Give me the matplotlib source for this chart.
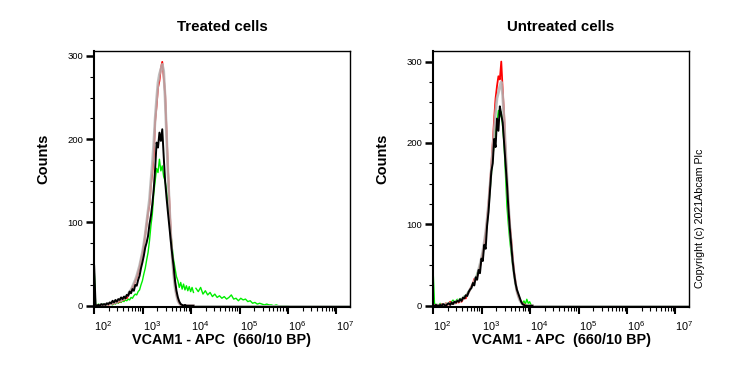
import numpy as np
import matplotlib
matplotlib.use("Agg")
import matplotlib.pyplot as plt
from matplotlib.ticker import FixedLocator, LogLocator, LogFormatterSciNotation, MultipleLocator, NullFormatter

plt.rcParams['font.family'] = ['Liberation Sans', 'DejaVu Sans']
plt.rcParams['mathtext.fontset'] = 'custom'
plt.rcParams['mathtext.rm'] = 'Liberation Sans'
plt.rcParams['mathtext.it'] = 'Liberation Sans:italic'
plt.rcParams['mathtext.bf'] = 'Liberation Sans:bold'

# channel positions (log10 of intensity)
log_main = np.linspace(2.0, 4.05, 71)
log_tail = np.linspace(4.1, 6.0, 40)
log_end = [4.1, 7.28]

# ---- Treated cells ----
treated_red = [0, 0, 0, 1, 0, 0, 1, 0, 1, 2, 1, 2, 3, 2, 4, 3, 5, 4, 6, 5,
               8, 7, 10, 9, 13, 15, 18, 22, 25, 30, 34, 40, 46, 55, 62, 72, 85, 98, 112, 122,
               145, 160, 182, 222, 240, 262, 270, 285, 293, 275, 255, 210, 165, 125, 88, 60, 40, 25, 14, 7,
               3, 1, 0, 0, 0, 0, 0, 0, 0, 0, 0]
treated_gray = [0, 1, 0, 0, 1, 0, 1, 1, 2, 1, 2, 3, 2, 4, 3, 5, 4, 6, 7, 6,
                9, 8, 11, 12, 14, 17, 19, 23, 27, 31, 36, 42, 48, 56, 64, 74, 86, 100, 114, 128,
                150, 170, 195, 225, 248, 268, 278, 284, 290, 282, 250, 205, 160, 120, 85, 58, 38, 22, 13, 6,
                3, 1, 0, 0, 0, 0, 0, 0, 0, 0, 0]
treated_black = [48, 1, 0, 1, 0, 2, 1, 2, 1, 3, 2, 4, 3, 6, 4, 7, 5, 8, 7, 10,
                 8, 11, 9, 13, 12, 17, 15, 20, 18, 25, 24, 31, 36, 45, 52, 60, 70, 76, 84, 98,
                 108, 122, 140, 165, 196, 190, 208, 198, 212, 180, 150, 130, 112, 95, 78, 62, 48, 30, 18, 10,
                 5, 2, 1, 0, 1, 0, 0, 0, 0, 0, 0]
treated_green = [45, 2, 0, 2, 1, 0, 2, 1, 0, 2, 1, 3, 2, 1, 3, 2, 4, 3, 5, 4,
                 6, 5, 7, 6, 8, 7, 10, 9, 12, 14, 13, 17, 19, 25, 30, 38, 45, 55, 64, 78,
                 96, 110, 135, 150, 165, 160, 176, 162, 168, 155, 150, 138, 122, 105, 88, 70, 55, 45, 35, 30,
                 22, 28, 20, 26, 19, 24, 18, 23, 17, 22, 16]
treated_green_tail = [21, 17, 22, 14, 18, 13, 16, 11, 14, 10, 12, 9, 11, 8, 10, 13, 8, 9, 6, 9,
                      7, 8, 5, 6, 3, 4, 2, 3, 2, 1, 2, 1, 1, 0, 1, 0, 0, 0, 0, 0]

# ---- Untreated cells ----
untreated_red = [0, 1, 0, 0, 1, 0, 2, 1, 0, 3, 1, 2, 5, 2, 3, 4, 3, 5, 4, 6,
                 5, 8, 10, 9, 14, 16, 20, 24, 27, 33, 32, 36, 41, 48, 56, 65, 76, 88, 105, 125,
                 148, 172, 200, 230, 255, 270, 282, 278, 300, 265, 235, 190, 155, 125, 100, 82, 60, 42, 30, 18,
                 12, 8, 5, 3, 2, 1, 0, 0, 0, 0, 0]
untreated_gray = [1, 0, 0, 1, 0, 1, 1, 0, 2, 1, 2, 3, 2, 3, 4, 3, 5, 5, 7, 6,
                  8, 9, 11, 12, 14, 17, 20, 23, 26, 30, 34, 38, 44, 51, 58, 67, 78, 90, 106, 124,
                  146, 168, 192, 215, 238, 255, 262, 270, 275, 258, 228, 192, 158, 126, 98, 76, 56, 40, 28, 18,
                  12, 7, 4, 2, 1, 0, 0, 0, 0, 0, 0]
untreated_black = [0, 0, 1, 0, 0, 1, 0, 2, 1, 0, 2, 3, 1, 4, 2, 5, 4, 6, 5, 8,
                   6, 10, 9, 13, 12, 17, 20, 22, 28, 25, 35, 32, 44, 40, 58, 55, 75, 70, 98, 115,
                   140, 165, 175, 205, 195, 230, 215, 245, 235, 225, 200, 175, 150, 120, 95, 75, 55, 40, 28, 20,
                   15, 10, 5, 2, 1, 0, 0, 0, 0, 0, 0]
untreated_green = [42, 1, 2, 0, 1, 3, 0, 2, 1, 3, 2, 4, 2, 5, 7, 4, 6, 8, 6, 9,
                   7, 10, 12, 11, 15, 18, 19, 24, 26, 31, 33, 40, 42, 50, 55, 66, 74, 88, 100, 120,
                   140, 160, 182, 200, 215, 225, 240, 232, 238, 220, 198, 160, 122, 100, 80, 65, 50, 38, 26, 18,
                   12, 8, 5, 3, 6, 2, 8, 3, 5, 1, 0]

end_counts = [0, 0]

panels = [
    ("Treated cells", treated_green, treated_green_tail, treated_red, treated_gray, treated_black, 306),
    ("Untreated cells", untreated_green, None, untreated_red, untreated_gray, untreated_black, 313),
]

fig = plt.figure(figsize=(7.39, 3.70), dpi=100)
lefts = [94 / 739, 433 / 739]
bottom = 1 - 307 / 370
w, h = 256 / 739, 256 / 370

for (title, green, green_tail, red, gray, black, ytop), left in zip(panels, lefts):
    ax = fig.add_axes([left, bottom, w, h])
    x = 10 ** log_main
    xe = 10 ** np.array(log_end)
    if green_tail is not None:
        ax.plot(10 ** log_tail, green_tail, color='#00ee00', lw=1.0)
    ax.plot(x, green, color='#00ee00', lw=1.0)
    ax.plot(xe, end_counts, color='#00ee00', lw=1.0)
    ax.plot(x, red, color='#ff0000', lw=1.3)
    ax.plot(x, gray, color='#b4b4b4', lw=2.0, alpha=0.85)
    ax.plot(xe, end_counts, color='#b4b4b4', lw=2.0)
    ax.plot(x, black, color='black', lw=1.4)

    ax.set_xscale('log')
    ax.set_xlim(10 ** 1.997, 10 ** 7.28)
    ax.set_ylim(-1.5, ytop)

    ax.yaxis.set_major_locator(FixedLocator([0, 100, 200, 300]))
    ax.yaxis.set_minor_locator(MultipleLocator(25))
    ax.xaxis.set_major_locator(LogLocator(base=10, numticks=10))
    ax.xaxis.set_minor_locator(LogLocator(base=10, subs=np.arange(2, 10), numticks=20))
    ax.xaxis.set_major_formatter(LogFormatterSciNotation())
    ax.xaxis.set_minor_formatter(NullFormatter())

    ax.tick_params(axis='y', which='major', length=6, width=1.8, labelsize=6.8, pad=2)
    ax.tick_params(axis='y', which='minor', length=3, width=0.8)
    ax.tick_params(axis='x', which='major', length=5, width=1.5, labelsize=7.8, pad=4)
    ax.tick_params(axis='x', which='minor', length=3, width=0.8)
    for lab in ax.get_xticklabels():
        lab.set_horizontalalignment('left')

    for s in ['left', 'bottom']:
        ax.spines[s].set_linewidth(1.5)
    for s in ['top', 'right']:
        ax.spines[s].set_linewidth(1.0)

    ax.set_title(title, fontsize=10.8, fontweight='bold', y=1 + 16 / 256, va='center')
    ax.set_xlabel('VCAM1 - APC  (660/10 BP)', fontsize=10.4, fontweight='bold')
    ax.xaxis.label.set_va('center')
    ax.xaxis.set_label_coords(0.5, -33 / 256)

    fig.text(left - 51 / 739, 1 - 159 / 370, 'Counts', rotation=90, ha='center', va='center',
             fontsize=10.5, fontweight='bold')

fig.text(700 / 739, 1 - 218 / 370, 'Copyright (c) 2021Abcam Plc', rotation=90,
         ha='center', va='center', fontsize=7.7)

fig.savefig('out.png', dpi=100)
